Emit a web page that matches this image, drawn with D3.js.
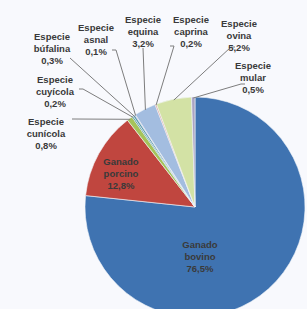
<!DOCTYPE html>
<html lang="es">
    <head>
        <meta charset="utf-8">
        <title>Especies</title>
        <script src="https://d3js.org/d3.v7.min.js"></script>
        <style type="text/css">
            body { margin: 0; background: #f8f9fd; }
            text { font-family: "Liberation Sans", Arial, sans-serif; font-weight: bold; fill: #3a3a3a; }
        </style>
    </head>
    <body>
        <script type="text/javascript">

            //1. consts
            const svgW = 307;
            const svgH = 309;
            const cx = 195;
            const cy = 207;
            const radius = 110;

            //2. data
            const names = ["Ganado\nbovino", "Ganado\nporcino", "Especie\ncunícola", "Especie\ncuyícola",
                           "Especie\nbúfalina", "Especie\nasnal", "Especie\nequina", "Especie\ncaprina",
                           "Especie\novina", "Especie\nmular"];
            const values = [76.5, 12.8, 0.8, 0.2, 0.3, 0.1, 3.2, 0.2, 5.2, 0.5];
            const colors = ["#3f73b1", "#c0463f", "#a5c35a", "#3f8a8c", "#5a9ab0", "#8a7aa8",
                            "#a3bde0", "#d99a94", "#d3e2a5", "#aaa4c4"];

            // label anchor (centre of first line) and elbow of leader line, null = inside label
            const labelPos = [
                {x: 200, y: 245}, {x: 121, y: 162},
                {x: 46, y: 122, elbow: [74, 119]},
                {x: 55, y: 80, elbow: [83, 89]},
                {x: 52, y: 37, elbow: [70, 58]},
                {x: 96, y: 28, elbow: [116, 50]},
                {x: 143, y: 20, elbow: [143, 48]},
                {x: 191, y: 20, elbow: [174, 46]},
                {x: 239, y: 24, elbow: [231, 47]},
                {x: 253, y: 66, elbow: [241, 84]}
            ];

            const pie = d3.pie().sort(null).value(d => d);
            const arcs = pie(values);

            const arc = d3.arc().innerRadius(0).outerRadius(radius);
            const edgeArc = d3.arc().innerRadius(radius - 1).outerRadius(radius - 1);

            //3. svg
            const svg = d3.select("body")
                        .append("svg")
                        .attr("width", svgW)
                        .attr("height", svgH);

            const g = svg.append("g")
                        .attr("transform", "translate(" + cx + "," + cy + ")");

            g.selectAll("path")
                .data(arcs)
                .enter()
                .append("path")
                .attr("d", arc)
                .attr("fill", (d, i) => colors[i])
                .attr("stroke", "#f4f6fa")
                .attr("stroke-width", 0.6);

            // leader lines
            arcs.forEach(function(d, i) {
                const p = labelPos[i];
                if (!p.elbow) return;
                const c = edgeArc.centroid(d);
                const end = [cx + c[0], cy + c[1]];
                const pts = [p.elbow, end];
                if (i == 2) pts.unshift([p.elbow[0] - 2, p.elbow[1]]);
                if (i == 3 || i == 5 || i == 7) pts.unshift([p.elbow[0] - 4, p.elbow[1]]);
                if (i == 8 || i == 9) pts.unshift([p.elbow[0] + 4, p.elbow[1]]);
                svg.append("path")
                    .attr("d", d3.line()(pts))
                    .attr("fill", "none")
                    .attr("stroke", "#7d7d7d")
                    .attr("stroke-width", 1);
            });

            // labels
            arcs.forEach(function(d, i) {
                const p = labelPos[i];
                const lines = names[i].split("\n");
                lines.push(String(values[i]).replace(".", ",") + "%");
                const t = svg.append("text")
                    .attr("text-anchor", "middle")
                    .attr("font-size", "9.5px");
                lines.forEach(function(l, k) {
                    t.append("tspan")
                        .attr("x", p.x)
                        .attr("y", p.y + k * 12 + 3)
                        .text(l);
                });
            });

        </script>
    </body>
</html>
